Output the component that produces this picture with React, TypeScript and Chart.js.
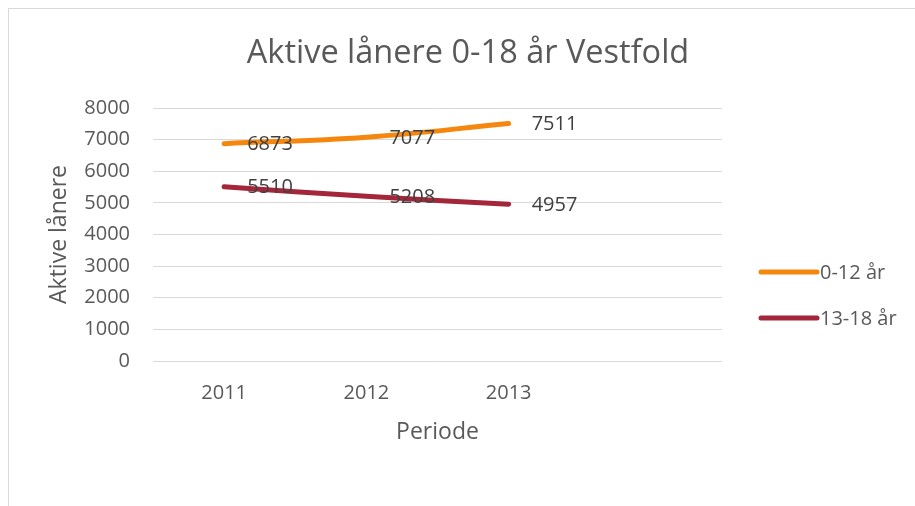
import React, { useEffect, useRef } from "react";
import { Chart, registerables } from "chart.js";

Chart.register(...registerables);

const categories = ["2011", "2012", "2013", ""];
const seriesNames = ["0-12 år", "13-18 år"];
const series0to12 = [6873, 7077, 7511];
const series13to18 = [5510, 5208, 4957];
const seriesColors = ["#F5870F", "#A3263A"];
const yMin = 0;
const yMax = 8000;
const yStep = 1000;
const chartTitle = "Aktive lånere 0-18 år Vestfold";
const yAxisTitle = "Aktive lånere";
const xAxisTitle = "Periode";

const FONT = "'Open Sans', 'Noto Sans', sans-serif";
const W = 918;
const H = 497;

export default function App() {
  const ref = useRef<HTMLCanvasElement | null>(null);

  useEffect(() => {
    const canvas = ref.current;
    if (!canvas) return;

    const titlePlugin = {
      id: "customTitle",
      afterDraw(chart: any) {
        const ctx = chart.ctx;
        ctx.save();
        ctx.font = `32.5px ${FONT}`;
        ctx.fillStyle = "#595959";
        ctx.textAlign = "center";
        ctx.textBaseline = "middle";
        ctx.fillText(chartTitle, chart.width / 2, 45);
        ctx.restore();
      },
    };

    const dataLabelPlugin = {
      id: "dataLabels",
      afterDatasetsDraw(chart: any) {
        const ctx = chart.ctx;
        ctx.save();
        ctx.font = `20px ${FONT}`;
        ctx.fillStyle = "#404040";
        ctx.textAlign = "left";
        ctx.textBaseline = "middle";
        chart.data.datasets.forEach((ds: any, i: number) => {
          const meta = chart.getDatasetMeta(i);
          meta.data.forEach((pt: any, j: number) => {
            const v = ds.data[j];
            if (v == null) return;
            ctx.fillText(String(v), pt.x + 23, pt.y + 1);
          });
        });
        ctx.restore();
      },
    };

    const legendPlugin = {
      id: "customLegend",
      afterDraw(chart: any) {
        const ctx = chart.ctx;
        ctx.save();
        const x0 = chart.chartArea.right + 39;
        const lineLen = 56;
        const ys = [263, 309];
        chart.data.datasets.forEach((ds: any, i: number) => {
          const y = ys[i];
          ctx.strokeStyle = ds.borderColor;
          ctx.lineWidth = 5;
          ctx.lineCap = "round";
          ctx.beginPath();
          ctx.moveTo(x0, y);
          ctx.lineTo(x0 + lineLen, y);
          ctx.stroke();
          ctx.font = `20px ${FONT}`;
          ctx.fillStyle = "#595959";
          ctx.textAlign = "left";
          ctx.textBaseline = "middle";
          ctx.fillText(ds.label, x0 + lineLen + 3, y + 1);
        });
        ctx.restore();
      },
    };

    const chart = new Chart(canvas, {
      type: "line",
      data: {
        labels: categories,
        datasets: [
          {
            label: seriesNames[0],
            data: series0to12,
            borderColor: seriesColors[0],
            backgroundColor: seriesColors[0],
            borderWidth: 5,
            pointRadius: 0,
            tension: 0.4,
            borderCapStyle: "round",
            fill: false,
          },
          {
            label: seriesNames[1],
            data: series13to18,
            borderColor: seriesColors[1],
            backgroundColor: seriesColors[1],
            borderWidth: 5,
            pointRadius: 0,
            tension: 0.4,
            borderCapStyle: "round",
            fill: false,
          },
        ],
      },
      options: {
        responsive: false,
        maintainAspectRatio: false,
        animation: false,
        devicePixelRatio: 1,
        layout: { padding: { top: 99, right: 205, bottom: 45, left: 0 } },
        plugins: {
          legend: { display: false },
          title: { display: false },
          tooltip: { enabled: false },
        },
        scales: {
          x: {
            offset: true,
            grid: { display: false, drawTicks: false },
            border: { display: false },
            ticks: {
              font: { family: FONT, size: 20 },
              color: "#595959",
              padding: 20,
              maxRotation: 0,
              autoSkip: false,
            },
            title: {
              display: true,
              text: xAxisTitle,
              font: { family: FONT, size: 23 },
              color: "#595959",
              padding: { top: 0, bottom: 15 },
            },
            afterFit(scale: any) {
              scale.height = 100;
            },
          },
          y: {
            min: yMin,
            max: yMax,
            grid: { color: "#d9d9d9", lineWidth: 1, drawTicks: false },
            border: { display: false },
            ticks: {
              stepSize: yStep,
              font: { family: FONT, size: 20 },
              color: "#595959",
              padding: 23,
              callback: (v: any) => String(v),
            },
            title: {
              display: true,
              text: yAxisTitle,
              font: { family: FONT, size: 23 },
              color: "#595959",
              padding: { top: 37, bottom: 0 },
            },
            afterFit(scale: any) {
              scale.width = 144;
            },
          },
        },
      },
      plugins: [titlePlugin, dataLabelPlugin, legendPlugin],
    } as any);

    return () => chart.destroy();
  }, []);

  return (
    <div
      style={{
        position: "absolute",
        left: 0,
        top: 0,
        width: 915,
        height: 506,
        overflow: "hidden",
        background: "#fff",
      }}
    >
      <div
        style={{
          position: "absolute",
          left: 8,
          top: 8,
          width: W + 2,
          height: H + 2,
          borderLeft: "1px solid #d9d9d9",
          borderTop: "1px solid #d9d9d9",
        }}
      >
        <canvas
          ref={ref}
          width={W}
          height={H}
          style={{ display: "block", width: W, height: H }}
        />
      </div>
    </div>
  );
}
